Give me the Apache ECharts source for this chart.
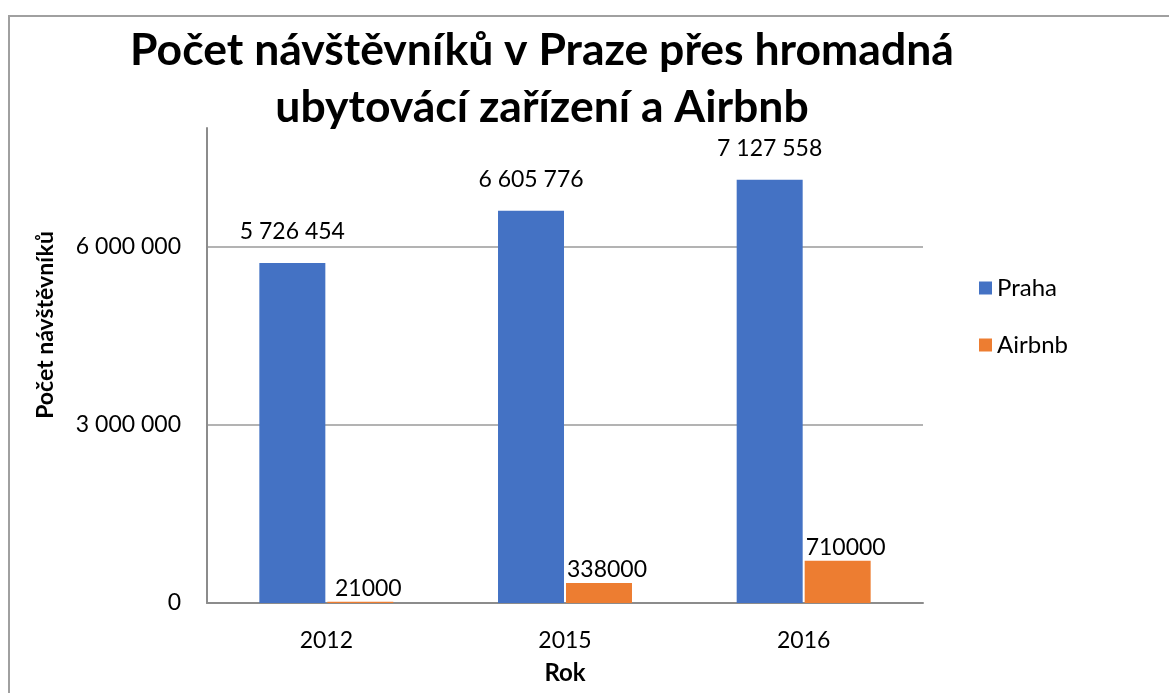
<!DOCTYPE html>
<html>
<head>
<meta charset="utf-8">
<script src="https://cdn.jsdelivr.net/npm/echarts@6/dist/echarts.min.js"></script>
<style>
  html, body { margin: 0; padding: 0; background: #fff; }
  #main { width: 1169px; height: 693px; }
</style>
</head>
<body>
<div id="main"></div>
<script>
// data
let years = ['2012', '2015', '2016']
let praha = [5726454, 6605776, 7127558]
let airbnb = [21000, 338000, 710000]
let seriesNames = ['Praha', 'Airbnb']

let FONT = 'Lato'

// "6 000 000" style
function spaced(v) {
    return String(v).replace(/\B(?=(\d{3})+(?!\d))/g, ' ')
}

let chart = echarts.init(document.getElementById('main'))

let option = {
    backgroundColor: '#fff',
    animation: false,
    textStyle: { fontFamily: FONT, color: '#000' },
    color: ['#4472C4', '#ED7D31'],
    title: {
        text: 'Počet návštěvníků v Praze přes hromadná\nubytovácí zařízení a Airbnb',
        left: 537,
        textAlign: 'center',
        top: 17,
        textStyle: {
            fontFamily: FONT,
            fontWeight: 'bold',
            fontSize: 44.5,
            lineHeight: 57,
            color: '#000'
        }
    },
    legend: {
        orient: 'vertical',
        left: 979,
        top: 275,
        padding: 0,
        itemWidth: 13,
        itemHeight: 13,
        itemGap: 31,
        itemTextGap: 7,
        icon: 'rect',
        data: seriesNames,
        textStyle: { fontFamily: FONT, fontSize: 24, lineHeight: 26, color: '#000' }
    },
    grid: {
        left: 207,
        right: 246,
        top: 128,
        bottom: 90
    },
    xAxis: {
        type: 'category',
        data: years,
        name: 'Rok',
        nameLocation: 'middle',
        nameGap: 58,
        nameTextStyle: { fontFamily: FONT, fontWeight: 'bold', fontSize: 24, color: '#000' },
        axisLine: { lineStyle: { color: '#8c8c8c', width: 2 } },
        axisTick: { show: false },
        axisLabel: { fontFamily: FONT, fontSize: 23, color: '#000', margin: 26 }
    },
    yAxis: {
        type: 'value',
        min: 0,
        max: 8000000,
        interval: 3000000,
        axisLine: { show: true, lineStyle: { color: '#8c8c8c', width: 2 } },
        axisTick: { show: false },
        axisLabel: {
            fontFamily: FONT,
            fontSize: 23,
            color: '#000',
            margin: 26,
            showMaxLabel: false,
            formatter: function (v) { return spaced(v) }
        },
        splitLine: {
            show: true,
            showMaxLine: false,
            lineStyle: { color: '#b3b3b3', width: 2 }
        }
    },
    graphic: [
        {
            type: 'rect',
            silent: true,
            shape: { x: 9, y: 16, width: 1400, height: 900 },
            style: { fill: 'none', stroke: '#a0a0a0', lineWidth: 2 }
        },
        {
            type: 'text',
            x: 46,
            y: 325,
            rotation: Math.PI / 2,
            style: {
                text: 'Počet návštěvníků',
                font: 'bold 23px ' + FONT,
                fill: '#000',
                align: 'center',
                verticalAlign: 'middle'
            }
        }
    ],
    series: [
        {
            name: seriesNames[0],
            type: 'bar',
            data: praha,
            barWidth: 66,
            barGap: '3%',
            label: {
                show: true,
                position: 'top',
                distance: 20,
                fontFamily: FONT,
                fontSize: 23,
                color: '#000',
                formatter: function (p) { return spaced(p.value) }
            }
        },
        {
            name: seriesNames[1],
            type: 'bar',
            data: airbnb,
            barWidth: 66,
            label: {
                show: true,
                position: 'top',
                distance: 2,
                offset: [8, 0],
                fontFamily: FONT,
                fontSize: 23,
                color: '#000'
            }
        }
    ]
}

chart.setOption(option)
</script>
</body>
</html>
